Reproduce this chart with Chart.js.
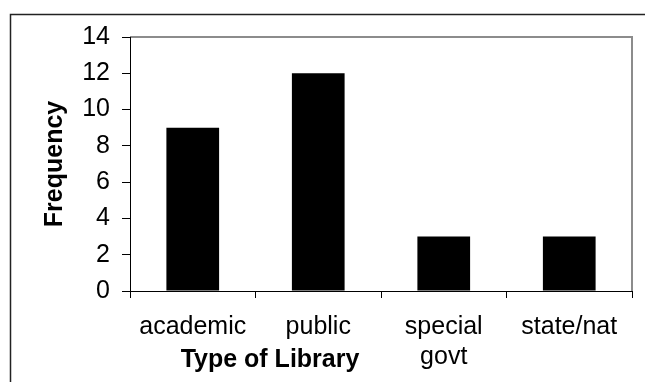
<!DOCTYPE html>
<html>
<head>
<meta charset="utf-8">
<script src="https://cdn.jsdelivr.net/npm/chart.js@4/dist/chart.umd.min.js"></script>
<style>
  html, body { margin: 0; padding: 0; background: #fff; }
  #wrap { position: relative; width: 645px; height: 382px; }
</style>
</head>
<body>
<div id="wrap"><canvas id="c" width="645" height="382"></canvas></div>
<script>
const categories = ['academic', 'public', ['special', 'govt'], 'state/nat'];
const frequency = [9, 12, 3, 3];
const yTicks = [0, 2, 4, 6, 8, 10, 12, 14];
const xTitle = 'Type of Library';
const yTitle = 'Frequency';

const FONT = "'Liberation Sans', Arial, sans-serif";

const decor = {
  id: 'decor',
  beforeDraw(chart) {
    const ctx = chart.ctx;
    ctx.save();
    ctx.fillStyle = '#fff';
    ctx.fillRect(0, 0, chart.width, chart.height);
    ctx.strokeStyle = '#222';
    ctx.lineWidth = 1.5;
    ctx.strokeRect(10.5, 14.5, 640, 400);
    ctx.restore();
  },
  afterDatasetsDraw(chart) {
    const ctx = chart.ctx;
    const a = chart.chartArea;
    ctx.save();
    ctx.strokeStyle = '#8c8c8c';
    ctx.lineWidth = 2;
    ctx.beginPath();
    ctx.moveTo(a.left, a.top);
    ctx.lineTo(a.right, a.top);
    ctx.lineTo(a.right, a.bottom);
    ctx.stroke();
    ctx.strokeStyle = '#000';
    ctx.lineWidth = 1;
    ctx.beginPath();
    ctx.moveTo(a.left + 0.5, a.top);
    ctx.lineTo(a.left + 0.5, a.bottom + 0.5);
    ctx.lineTo(a.right, a.bottom + 0.5);
    ctx.stroke();
    ctx.fillStyle = '#000';
    ctx.font = "bold 25px " + FONT;
    ctx.textAlign = 'center';
    ctx.textBaseline = 'alphabetic';
    ctx.fillText(xTitle, 270, 367);
    ctx.translate(62, (a.top + a.bottom) / 2);
    ctx.rotate(-Math.PI / 2);
    ctx.fillText(yTitle, 0, 0);
    ctx.restore();
  }
};

new Chart(document.getElementById('c'), {
  type: 'bar',
  data: {
    labels: categories,
    datasets: [{
      data: frequency,
      backgroundColor: '#000',
      borderWidth: 0,
      barPercentage: 0.42,
      categoryPercentage: 1.0
    }]
  },
  options: {
    responsive: false,
    animation: false,
    events: [],
    layout: { padding: { left: 0, top: 37, right: 13, bottom: 0 } },
    plugins: { legend: { display: false }, tooltip: { enabled: false } },
    scales: {
      x: {
        offset: true,
        border: { display: false },
        grid: { offset: true, drawOnChartArea: false, drawTicks: true, tickLength: 7, color: '#000' },
        ticks: { color: '#000', font: { family: FONT, size: 25, lineHeight: 1.2 }, padding: 14, maxRotation: 0, autoSkip: false },
        afterFit(s) { s.height = 91; }
      },
      y: {
        min: 0, max: 14,
        afterBuildTicks(s) { s.ticks = yTicks.map(v => ({ value: v })); },
        border: { display: false },
        grid: { drawOnChartArea: false, drawTicks: true, tickLength: 8, color: '#000' },
        ticks: { color: '#000', font: { family: FONT, size: 25 }, padding: 12 },
        afterFit(s) { s.width = 130; }
      }
    }
  },
  plugins: [decor]
});
</script>
</body>
</html>
